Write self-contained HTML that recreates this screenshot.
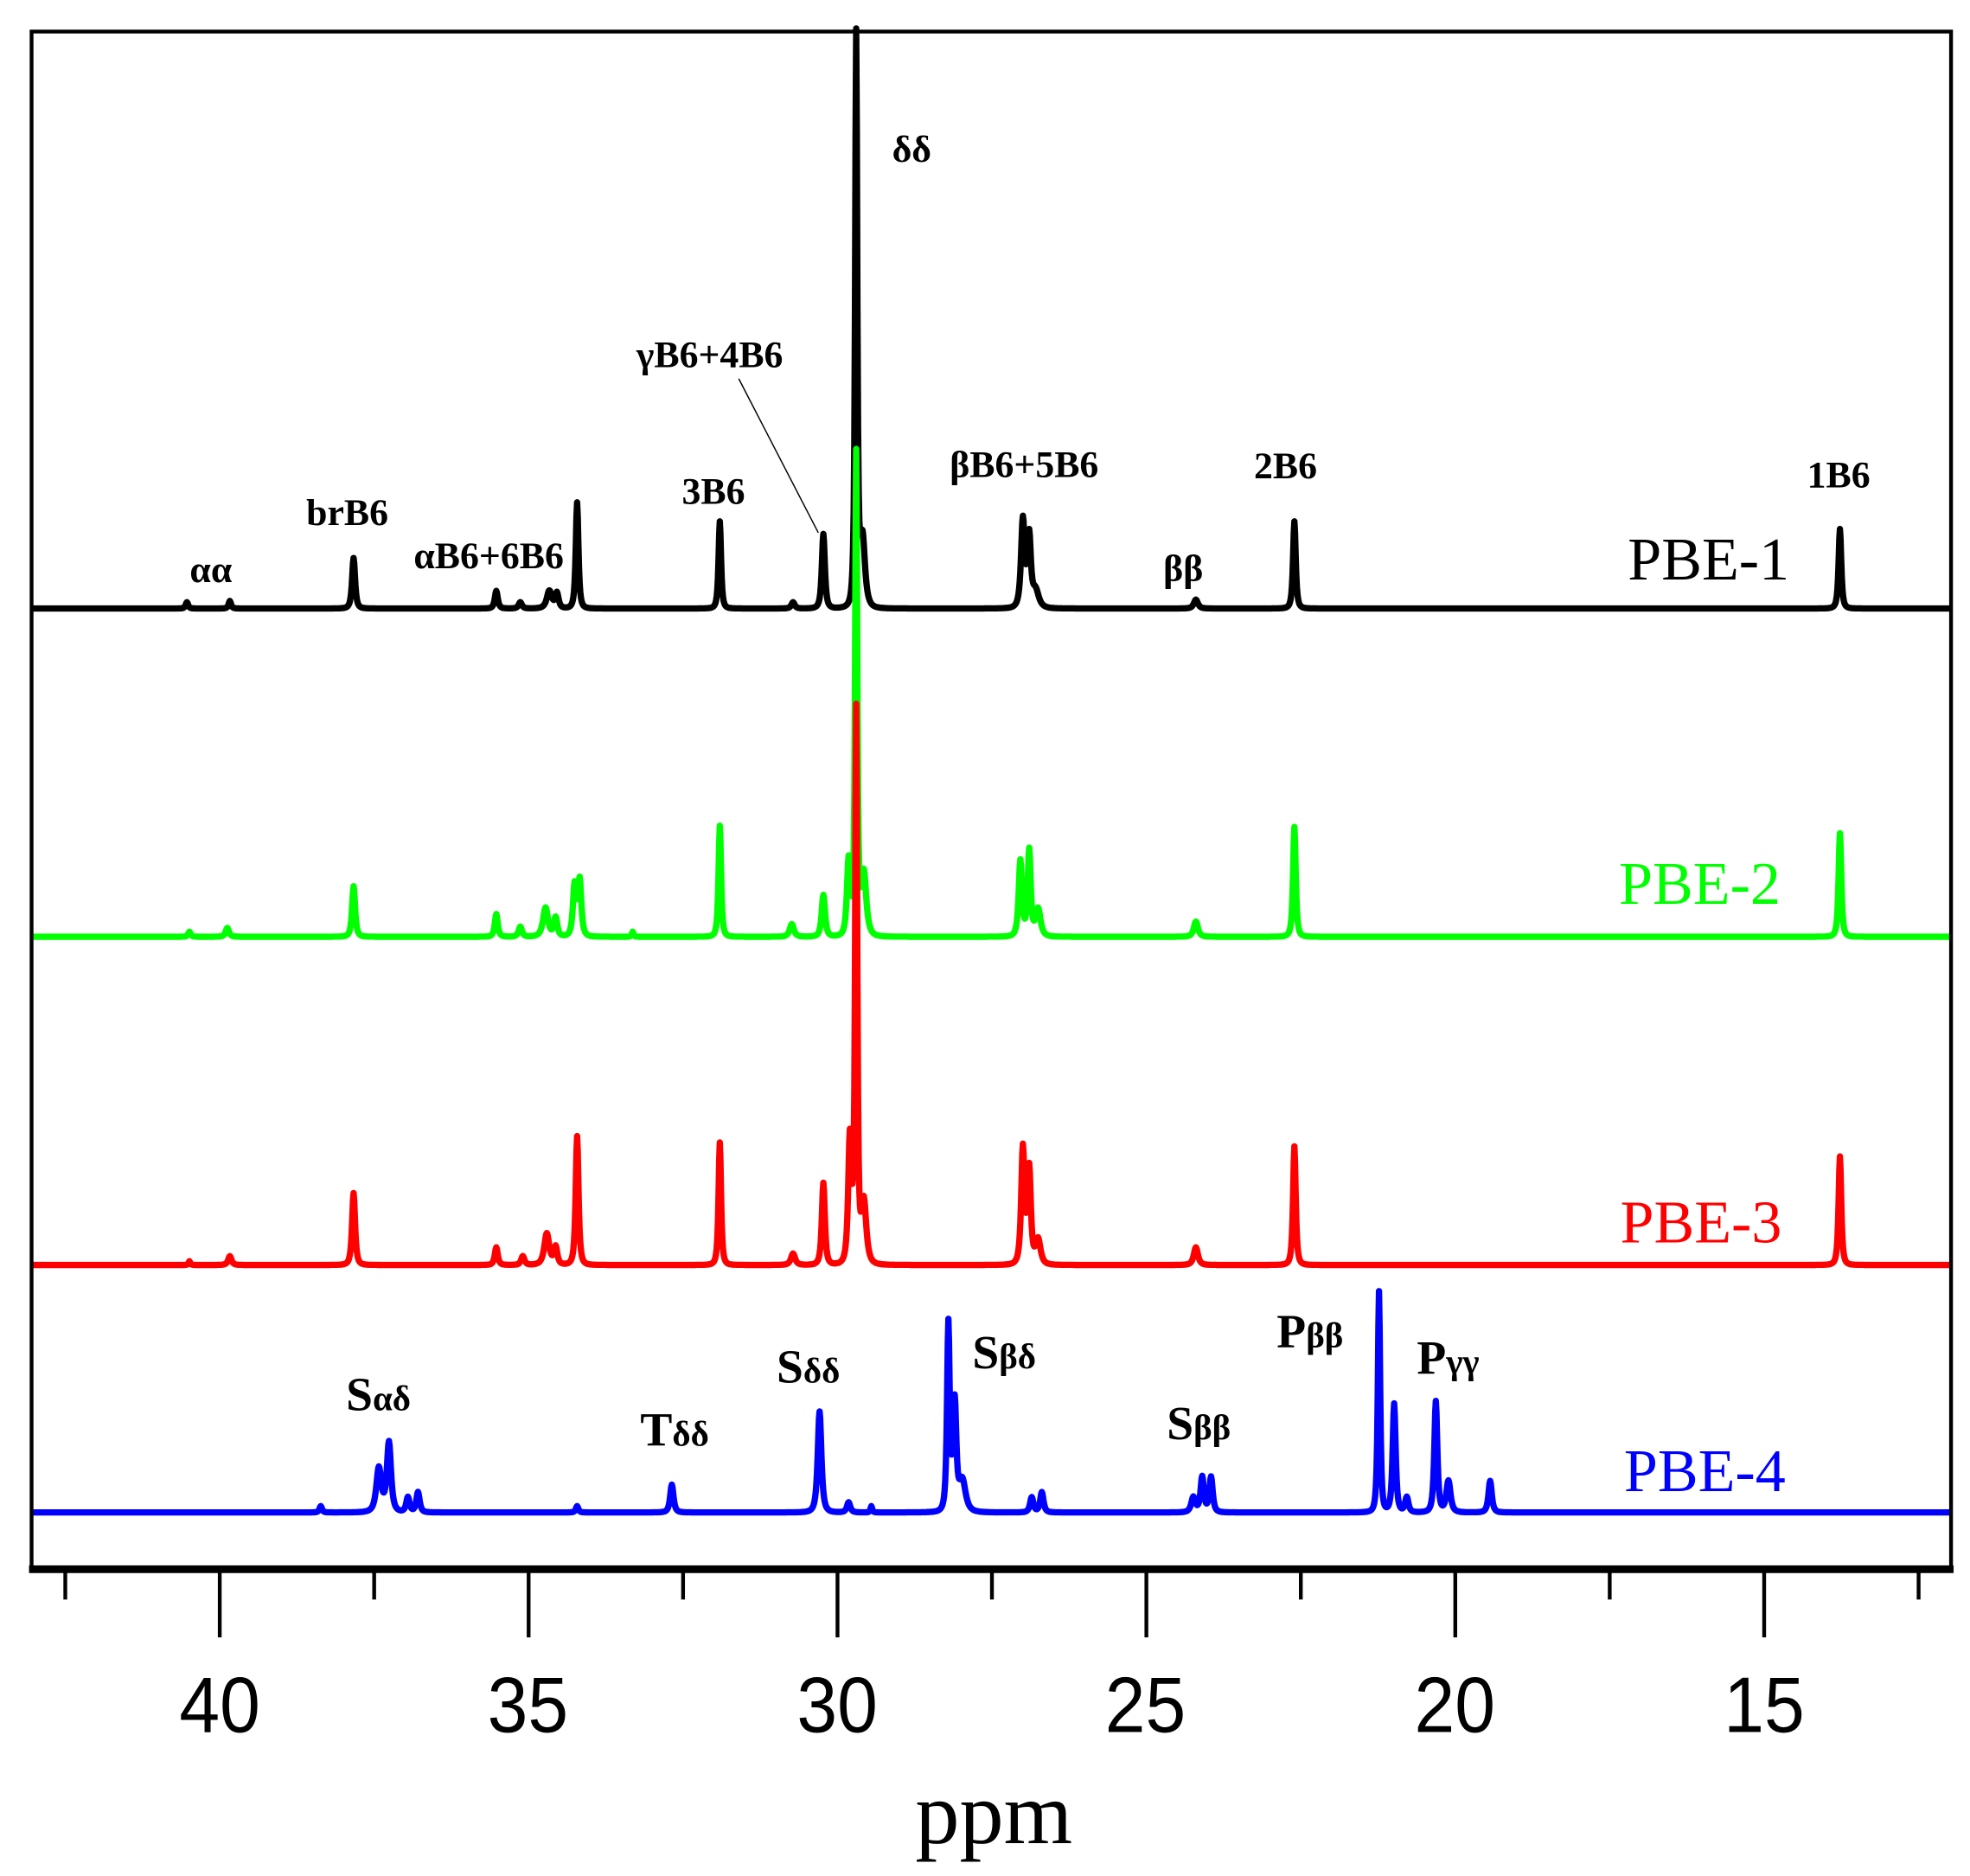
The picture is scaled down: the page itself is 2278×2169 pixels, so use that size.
<!DOCTYPE html>
<html><head><meta charset="utf-8">
<style>html,body{margin:0;padding:0;background:#fff;}svg{display:block}</style>
</head><body>
<svg id="s" xmlns="http://www.w3.org/2000/svg" width="2278" height="2169" viewBox="0 0 1560 1486" preserveAspectRatio="none">
<rect x="0" y="0" width="1560" height="1486" fill="#fff"/>
<g id="spec"></g>
<g fill="none" stroke="#000">
<rect x="25" y="25" width="1520" height="1218" stroke-width="3"/>
<line x1="23" y1="1243" x2="1547" y2="1243" stroke-width="6"/>
</g>
<g id="ticks" stroke="#000" stroke-width="3"></g>
<g font-family="Liberation Sans, sans-serif" font-size="62" text-anchor="middle" fill="#000">
<text x="174" y="1372" textLength="64" lengthAdjust="spacingAndGlyphs">40</text><text x="418" y="1372" textLength="64" lengthAdjust="spacingAndGlyphs">35</text><text x="663" y="1372" textLength="64" lengthAdjust="spacingAndGlyphs">30</text>
<text x="907" y="1372" textLength="64" lengthAdjust="spacingAndGlyphs">25</text><text x="1152" y="1372" textLength="64" lengthAdjust="spacingAndGlyphs">20</text><text x="1397" y="1372" textLength="64" lengthAdjust="spacingAndGlyphs">15</text>
</g>
<text x="787" y="1460" font-family="Liberation Serif, serif" font-size="70" text-anchor="middle">ppm</text>
<g font-family="Liberation Serif, serif" font-size="30" font-weight="bold" text-anchor="middle" fill="#000">
<text x="167" y="461">αα</text>
<text x="275" y="416">brB6</text>
<text x="387" y="450">αB6+6B6</text>
<text x="565" y="399">3B6</text>
<text x="562" y="291">γB6+4B6</text>
<text x="811" y="378">βB6+5B6</text>
<text x="1018" y="379">2B6</text>
<text x="937" y="460">ββ</text>
<text x="1456" y="386">1B6</text>
<text x="722" y="128">δδ</text>
</g>
<line x1="585" y1="300" x2="648" y2="422" stroke="#000" stroke-width="1"/>
<g font-family="Liberation Serif, serif" font-size="48" text-anchor="middle">
<text x="1353" y="459" fill="#000">PBE-1</text>
<text x="1346" y="716" fill="#00ff00">PBE-2</text>
<text x="1347" y="984" fill="#ff0000">PBE-3</text>
<text x="1350" y="1181" fill="#0000ff">PBE-4</text>
</g>
<g font-family="Liberation Serif, serif" font-size="38" font-weight="bold" fill="#000">
<text x="274" y="1117">S<tspan font-size="28">αδ</tspan></text>
<text x="507" y="1145">T<tspan font-size="28">δδ</tspan></text>
<text x="615" y="1095">S<tspan font-size="28">δδ</tspan></text>
<text x="770" y="1084">S<tspan font-size="28">βδ</tspan></text>
<text x="924" y="1140">S<tspan font-size="28">ββ</tspan></text>
<text x="1011" y="1067">P<tspan font-size="28">ββ</tspan></text>
<text x="1122" y="1088">P<tspan font-size="28">γγ</tspan></text>
</g>
<script>
(function(){
var NS="http://www.w3.org/2000/svg";
var tg=document.getElementById('ticks');
for(var v=42.5;v>=12.49;v-=2.5){
 var x=174+(40-v)*48.92;var maj=Math.abs(v%5)<0.01;
 var l=document.createElementNS(NS,'line');
 l.setAttribute('x1',x);l.setAttribute('x2',x);l.setAttribute('y1',1243);l.setAttribute('y2',maj?1297:1267);
 tg.appendChild(l);
}
var series=[
 {c:'#000',b:482,p:[[148,5,1.5],[182,6,1.5],[280,40,1.8],[393,14,1.8],[412,5,2],[435,14,3],[441,12,2],[457,84,1.6],[570,69,1.5],[628,5,2],[652,59,1.8],[678,452,1.3],[683,55,3],[810,70,2.2],[815,55,2],[820,14,4],[947,7,2.5],[1025,69,1.6],[1457,63,1.6]]},
 {c:'#00ff00',b:742,p:[[150,4,1.5],[180,7,2],[280,40,1.8],[393,18,1.8],[412,8,2],[432,23,3],[440,15,2],[455,40,2],[459,44,2],[501,4,1],[570,88,1.5],[627,10,2.5],[652,33,2],[672,60,2],[678,380,1.3],[684,50,3],[808,60,2],[815,68,1.8],[822,22,3],[947,12,2.5],[1025,87,1.6],[1457,82,1.6]]},
 {c:'#ff0000',b:1002,p:[[150,3,1],[182,7,2],[280,57,1.8],[393,14,1.8],[414,7,2],[433,25,3],[440,14,2],[457,102,1.7],[570,97,1.5],[628,9,2.5],[652,65,1.8],[673,100,2],[678,435,1.3],[684,50,3],[810,92,2],[815,75,2],[822,20,3],[947,14,2.5],[1025,94,1.6],[1457,86,1.6]]},
 {c:'#0000ff',b:1198,p:[[254,5,1.5],[300,35,3],[308,55,2.5],[323,12,2],[331,16,2],[457,5,1.5],[532,22,2],[649,80,2.2],[672,8,2],[690,5,1],[751,148,1.6],[756,85,2],[762,25,4],[817,12,2],[825,16,2],[945,12,2.5],[952,28,2],[959,28,2],[1092,175,1.4],[1104,86,1.8],[1114,12,2],[1137,88,1.8],[1147,25,2.5],[1180,25,2]]}
];
var g=document.getElementById('spec');
series.forEach(function(s){
 var d='';
 for(var x=26;x<=1544;x+=0.5){
  var y=0;
  s.p.forEach(function(p){var u=(x-p[0])/p[2];var q=1+u*u;y+=p[1]/(q*Math.sqrt(q));});
  d+=(d?'L':'M')+x.toFixed(1)+' '+(s.b-y).toFixed(1);
 }
 var pa=document.createElementNS(NS,'path');
 pa.setAttribute('d',d);pa.setAttribute('fill','none');pa.setAttribute('stroke',s.c);
 pa.setAttribute('stroke-width','5');pa.setAttribute('stroke-linejoin','round');
 g.appendChild(pa);
});
})();
</script>
</svg>
</body></html>
